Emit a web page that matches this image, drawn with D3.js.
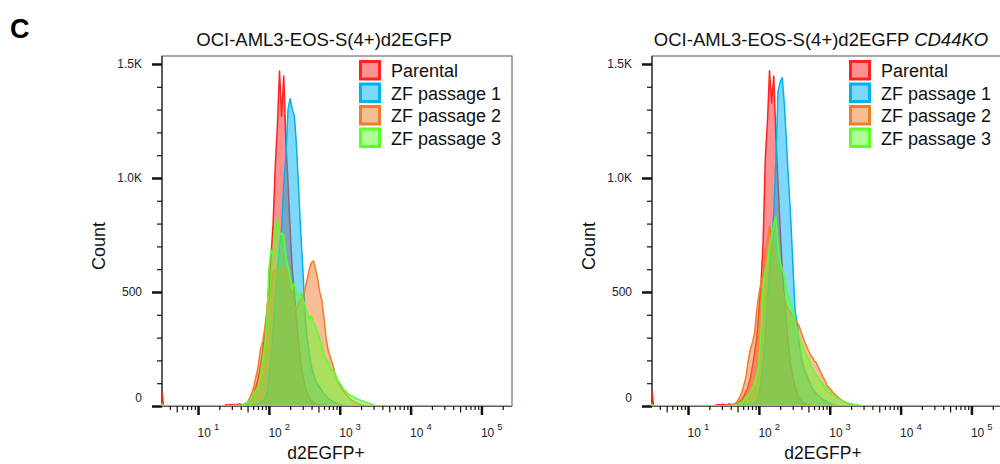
<!DOCTYPE html>
<html>
<head>
<meta charset="utf-8">
<script src="https://cdn.jsdelivr.net/npm/d3@7"></script>
<style>
  body { margin: 0; background: #fff; }
  svg { font-family: "Liberation Sans", Arial, Helvetica, sans-serif; }
</style>
</head>
<body>
<div id="chart"></div>
<script>
// ---------- data ----------
var seriesNames = ["Parental", "ZF passage 1", "ZF passage 2", "ZF passage 3"];
var seriesColors = ["#ff2222", "#00b2f0", "#f07d2c", "#5dff2a"];

// bin centres as log10(d2EGFP+), 1.40 .. 3.50
var binsLog = d3.range(71).map(i => 1.40 + i * 0.03);

var yTickValues = [0, 500, 1000, 1500];
var yTickLabels = ["0", "500", "1.0K", "1.5K"];
var xDecades = [1, 2, 3, 4, 5];

// left panel (OCI-AML3-EOS-S(4+)d2EGFP)
var parentalL = [6,4,7,5,8,6,9,7,5,10, 15,22,36,58,88,124,175,234,307,409,
  526,658,804,1053,1228,1469,1272,1447,1155,979, 775,599,497,380,278,190,132,88,58,36,
  22,15,8,6,4,3,2,2,1,1, 0,0,0,0,0,0,0,0,0,0, 0,0,0,0,0,0,0,0,0,0,0];
var zf1L = [0,0,0,0,0,1,0,1,2,2, 3,3,4,5,7,10,15,22,29,58,
  117,219,336,468,585,702,775,979,1096,1301, 1348,1301,1272,1140,950,760,599,409,292,234,
  175,139,110,95,80,66,51,44,32,26, 20,15,12,7,6,3,2,1,1,0, 0,0,0,0,0,0,0,0,0,0,0];
var zf2L = [1,2,1,2,3,2,3,4,6,10, 17,36,58,88,132,175,248,278,336,409,
  468,526,585,599,570,599,614,585,599,541, 512,482,439,424,453,468,482,512,555,599,
  629,636,599,555,497,460,380,292,241,212, 183,146,120,95,80,66,55,44,33,26,
  20,15,10,7,4,3,2,1,0,0,0];
var zf3L = [0,1,0,1,2,1,2,3,5,8, 15,25,36,55,70,80,130,200,263,365,
  599,687,658,804,819,746,760,746,658,614, 570,512,541,497,482,497,468,439,409,380,
  395,365,350,322,292,260,219,205,190,161, 155,146,117,105,92,75,66,55,48,44,
  38,34,30,26,22,19,15,12,8,5,2];
var edgeL = [60, 0, 0, 10];

// right panel (CD44KO)
var parentalR = [5,7,4,8,6,5,9,6,8,7, 12,20,30,45,65,88,124,175,234,300,
  420,540,720,1080,1240,1470,1330,1447,1180,980, 780,600,480,360,260,180,125,85,55,35,
  22,14,8,5,4,3,2,1,1,0, 0,0,0,0,0,0,0,0,0,0, 0,0,0,0,0,0,0,0,0,0,0];
var zf1R = [0,0,0,0,0,0,1,1,1,2, 2,3,3,4,5,5,6,7,12,20,
  45,100,190,300,460,590,700,850,1080,1380, 1420,1440,1320,1150,980,820,620,420,360,270,
  212,175,146,124,102,80,66,55,44,36, 29,24,18,13,9,6,4,2,1,0, 0,0,0,0,0,0,0,0,0,0,0];
var zf2R = [1,1,2,1,2,3,2,3,6,12, 22,40,60,95,130,200,250,280,320,420,
  490,540,580,680,720,790,730,680,640,600, 540,510,470,440,420,410,390,380,365,350,
  320,295,270,250,230,215,200,190,170,150, 130,115,90,80,70,58,50,40,32,26,
  20,16,12,9,6,4,3,2,0,0,0];
var zf3R = [0,0,1,0,1,2,1,2,3,5, 8,12,18,25,35,45,60,80,100,135,
  180,330,530,585,620,700,740,800,830,720, 630,600,570,520,480,450,420,370,330,300,
  280,250,230,210,190,170,150,135,120,110, 95,85,75,62,55,46,40,33,28,24,
  20,16,13,10,8,6,4,3,2,1,0];
var edgeR = [65, 0, 0, 8];

// ---------- layout ----------
var W = 1000, H = 464;
var margin = {top: 56, left: 162};
var plotW = 350, plotH = 350;
var xDomain = [3.1, 270000];
var yDomain = [0, 1535];

var svg = d3.select("#chart").append("svg")
    .attr("width", W)
    .attr("height", H);

svg.append("text")
    .attr("x", 10)
    .attr("y", 38)
    .attr("font-size", 27)
    .attr("font-weight", "bold")
    .text("C");

drawPanel(margin.left, "OCI-AML3-EOS-S(4+)d2EGFP", null, 324, [parentalL, zf1L, zf2L, zf3L], edgeL, "L");
drawPanel(margin.left + 490, "OCI-AML3-EOS-S(4+)d2EGFP ", "CD44KO", 821, [parentalR, zf1R, zf2R, zf3R], edgeR, "R");

function drawPanel(ox, title, italicPart, titleCx, counts, edges, id) {
    var g = svg.append("g").attr("transform", `translate(${ox},${margin.top})`);

    var x = d3.scaleLog().domain(xDomain).range([0, plotW]);
    var y = d3.scaleLinear().domain(yDomain).range([plotH, 0]);

    // title
    var t = svg.append("text")
        .attr("x", titleCx)
        .attr("y", 46)
        .attr("text-anchor", "middle")
        .attr("font-size", 18.5)
        .attr("fill", "#111");
    t.append("tspan").text(title);
    if (italicPart) t.append("tspan").attr("font-style", "italic").text(italicPart);

    // frame
    g.append("rect")
        .attr("width", plotW)
        .attr("height", plotH)
        .attr("fill", "none")
        .attr("stroke", "#555")
        .attr("stroke-width", 1);

    g.append("clipPath").attr("id", "clip" + id)
        .append("rect").attr("x", -1).attr("y", -1).attr("width", plotW + 2).attr("height", plotH + 1);

    // y axis
    var yMinor = d3.range(0, 1501, 100).filter(v => v % 500 !== 0);
    g.append("g")
        .call(d3.axisLeft(y).tickValues(yMinor).tickSize(5).tickFormat(""))
        .call(a => a.select(".domain").remove())
        .selectAll("line").attr("stroke", "#111").attr("stroke-width", 1.2);

    var yAxis = g.append("g")
        .call(d3.axisLeft(y).tickValues(yTickValues).tickSize(10).tickPadding(10)
            .tickFormat((d, i) => yTickLabels[i]));
    yAxis.select(".domain").attr("stroke", "#111").attr("d", `M0,${plotH}V0`);
    yAxis.selectAll(".tick line").attr("stroke", "#111").attr("stroke-width", 2.5);
    yAxis.selectAll(".tick text")
        .attr("font-size", 12)
        .attr("font-family", "'Liberation Sans', Arial, sans-serif")
        .attr("fill", "#222")
        .attr("dy", d => d === 0 ? "-0.35em" : "0.32em");

    // x axis
    var xMinor = [], xMid = [];
    for (var d = 0; d <= 5; d++) {
        for (var m = 2; m <= 9; m++) {
            var v = m * Math.pow(10, d);
            if (v < xDomain[0] || v > xDomain[1]) continue;
            if (m === 5) xMid.push(v); else xMinor.push(v);
        }
    }
    var xMajor = xDecades.map(p => Math.pow(10, p));

    [[xMinor, 4, 1.2], [xMid, 6.5, 1.2], [xMajor, 9, 2.5]].forEach(function(spec) {
        g.append("g")
            .attr("transform", `translate(0,${plotH})`)
            .call(d3.axisBottom(x).tickValues(spec[0]).tickSize(spec[1]).tickFormat(""))
            .call(a => a.select(".domain").remove())
            .selectAll("line").attr("stroke", "#111").attr("stroke-width", spec[2]);
    });
    g.append("line")
        .attr("x1", 0).attr("x2", plotW)
        .attr("y1", plotH).attr("y2", plotH)
        .attr("stroke", "#111");

    var xl = g.append("g").selectAll("text")
        .data(xDecades)
        .enter()
        .append("text")
        .attr("x", p => x(Math.pow(10, p)) - 0.5)
        .attr("y", plotH + 31)
        .attr("font-size", 12)
        .attr("fill", "#222");
    xl.append("tspan").text("10");
    xl.append("tspan").attr("font-size", 9.5).attr("dx", 3).attr("dy", -7).text(p => p);

    // axis titles
    svg.append("text")
        .attr("x", titleCx + 2)
        .attr("y", 459)
        .attr("text-anchor", "middle")
        .attr("font-size", 17.5)
        .attr("fill", "#111")
        .text("d2EGFP+");

    svg.append("text")
        .attr("transform", `translate(${ox - 57},246) rotate(-90)`)
        .attr("text-anchor", "middle")
        .attr("font-size", 18)
        .attr("fill", "#111")
        .text("Count");

    // histograms
    var area = d3.area()
        .x(p => x(p[0]))
        .y0(y(0))
        .y1(p => y(p[1]));

    var plot = g.append("g").attr("clip-path", `url(#clip${id})`);
    counts.forEach(function(c, k) {
        var pts = [[xDomain[0], edges[k]], [xDomain[0] * 1.05, 0], [Math.pow(10, binsLog[0] - 0.03), 0]];
        binsLog.forEach((b, i) => pts.push([Math.pow(10, b), c[i]]));
        pts.push([Math.pow(10, binsLog[binsLog.length - 1] + 0.03), 0]);
        pts.push([xDomain[1], 0]);
        plot.append("path")
            .attr("d", area(pts))
            .attr("fill", seriesColors[k])
            .attr("fill-opacity", 0.5)
            .attr("stroke", seriesColors[k])
            .attr("stroke-width", 1.5)
            .attr("stroke-linejoin", "round");
    });

    // legend
    var legend = g.append("g")
        .selectAll("g")
        .data(seriesNames)
        .enter()
        .append("g")
        .attr("transform", (d, i) => `translate(197,${4 + i * 22.5})`);
    legend.append("rect")
        .attr("x", 1.5).attr("y", 1.5)
        .attr("width", 19).attr("height", 17.5)
        .attr("fill", (d, i) => seriesColors[i])
        .attr("fill-opacity", 0.5)
        .attr("stroke", (d, i) => seriesColors[i])
        .attr("stroke-width", 3);
    legend.append("text")
        .attr("x", 32)
        .attr("y", 17)
        .attr("font-size", 18)
        .attr("fill", "#111")
        .text(d => d);
}
</script>
</body>
</html>
